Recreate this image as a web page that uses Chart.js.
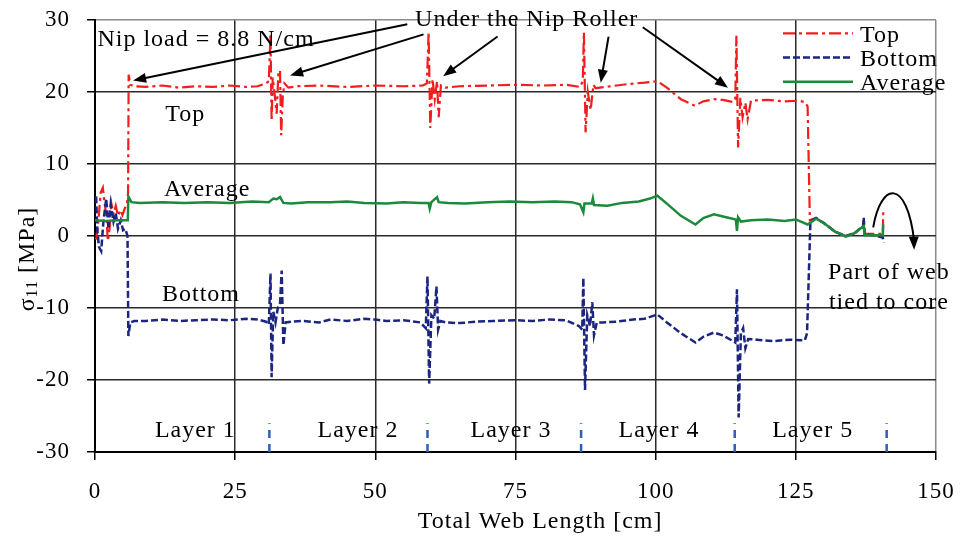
<!DOCTYPE html>
<html>
<head>
<meta charset="utf-8">
<title>σ11 vs total web length</title>
<script src="https://cdn.jsdelivr.net/npm/chart.js@4.4.1/dist/chart.umd.min.js"></script>
<style>
  html, body { margin: 0; padding: 0; background: #fff; }
  #wrap { width: 961px; height: 538px; }
</style>
</head>
<body>
<div id="wrap"><canvas id="stressChart" width="961" height="538"></canvas></div>
<script>
// Tangential stress sigma_11 [MPa] along the wound web, nip load 8.8 N/cm

// Top surface
const topLen = [0.2, 0.6, 1.0, 1.4, 1.7, 2.0, 2.3, 2.6, 2.9, 3.3, 3.7, 4.1, 4.5, 4.9, 5.3, 5.7, 5.9, 6.0, 6.3, 7,
  9, 12, 15, 18, 21, 24, 27, 29, 30.5,
  31.0, 31.3, 31.5, 31.7, 32.0, 32.4, 32.7, 33.0, 33.2, 33.5, 33.8, 34.5,
  36, 40, 45, 50, 55, 58.5,
  59.2, 59.5, 59.8, 60.2, 60.6, 61.0, 61.3, 61.7, 62.5,
  65, 70, 75, 80, 84, 86.5,
  87.0, 87.2, 87.5, 87.9, 88.4, 88.9, 89.3, 90,
  92, 95, 98, 100.3, 102, 104.5, 107, 108.5, 110.4, 112, 113.8,
  114.2, 114.4, 114.7, 115.1, 115.5, 116.0, 116.4, 117,
  120, 123, 125.5, 126.6, 127.1, 127.5, 128.6, 130, 132, 133.9, 135.5, 137.1, 137.3, 139, 140.5, 140.6];
const topStress = [-0.5, 2.0, 6.0, 6.7, 4.6, 3.0, -0.7, 1.0, 4.6, 3.0, 4.2, 2.8, 3.6, 2.9, 3.8, 4.5, 6.0, 22.4, 21.0, 20.8,
  20.7, 20.9, 20.6, 20.8, 20.7, 20.9, 20.7, 20.8, 21.2,
  21.5, 28.0, 16.0, 22.0, 20.0, 17.0, 22.5, 23.0, 14.0, 19.5, 21.2, 20.6,
  20.8, 20.9, 20.7, 20.9, 20.8, 20.9,
  21.2, 28.3, 15.0, 21.8, 19.0, 21.5, 16.5, 20.9, 20.6,
  20.8, 20.9, 21.0, 20.9, 21.0, 20.7,
  21.5, 28.3, 14.4, 20.0, 17.5, 21.0, 20.5, 20.6,
  20.8, 21.1, 21.3, 21.5, 20.6, 19.0, 18.1, 18.7, 19.0, 18.9, 18.6,
  19.0, 27.8, 12.3, 19.2, 16.5, 18.5, 16.2, 18.8,
  18.9, 18.7, 18.8, 18.6, 18.0, 2.2, 2.5, 1.8, 0.6, 0.0, 0.4, 1.4, 0.3, 0.3, 0.3, 3.5];

// Bottom surface
const botLen = [0.2, 0.4, 0.7, 1.1, 1.5, 2.0, 2.4, 2.8, 3.3, 3.7, 4.1, 4.6, 5.0, 5.4, 5.8, 5.95, 6.3, 7,
  9, 12, 15, 18, 21, 24, 27, 29, 30.5,
  31.0, 31.3, 31.5, 31.8, 32.2, 32.6, 33.0, 33.3, 33.6, 34.0, 35,
  37, 40, 42, 45, 48, 50, 52, 55, 58, 59.0,
  59.3, 59.6, 60.0, 60.5, 60.9, 61.2, 61.6, 62.5,
  65, 68, 71, 75, 78, 81, 84, 86.3,
  86.9, 87.1, 87.4, 87.8, 88.3, 88.7, 89.0, 89.5, 90.5,
  93, 96, 98, 100.3, 102, 104.5, 107.1, 108.5, 110.4, 112, 113.8,
  114.2, 114.5, 114.8, 115.2, 115.6, 116.0, 116.5, 118, 121, 124, 126.6, 127.0,
  127.6, 128.6, 130, 132, 133.9, 135.5, 137.0, 137.1, 137.3, 139, 140.5, 140.7];
const botStress = [5.5, 1.0, -1.5, -2.1, 2.0, 5.2, 1.0, 4.4, 2.0, 3.2, 1.0, 2.2, 0.8, 1.0, 0.0, -13.9, -12.0, -11.8,
  -11.8, -11.6, -11.8, -11.7, -11.6, -11.7, -11.5, -11.6, -11.9,
  -12.3, -5.2, -19.6, -10.5, -12.0, -10.0, -9.5, -4.8, -15.2, -12.0, -11.9,
  -11.8, -12.0, -11.6, -11.8, -11.5, -11.6, -11.8, -11.7, -12.0, -12.8,
  -5.6, -20.5, -11.0, -11.5, -7.0, -13.0, -11.8, -12.0,
  -12.1, -11.9, -11.8, -11.7, -11.8, -11.6, -11.7, -12.5,
  -13.0, -5.8, -21.4, -11.0, -12.5, -9.2, -13.8, -12.0, -12.0,
  -11.9, -11.6, -11.5, -10.9, -12.0, -13.5, -14.8, -14.0, -13.4, -13.8, -14.6,
  -14.8, -7.4, -25.2, -13.5, -12.8, -15.6, -14.3, -14.4, -14.6, -14.4, -14.5, -13.5,
  2.0, 2.5, 1.8, 0.6, 0.0, 0.4, 1.4, 2.6, 0.2, 0.1, -0.2, -0.9];

// Average of top and bottom
const avgLen = [0, 2, 4, 5.85, 5.95, 6.5, 8, 12, 16, 20, 24, 28, 31,
  31.8, 32.4, 33.0, 33.6, 35, 38, 42, 45, 48, 52, 55, 58,
  59.5, 59.7, 60.0, 61.0, 61.3, 63, 66, 70, 74, 78, 82, 85,
  86.5, 87.1, 87.3, 88.6, 88.8, 89.0, 91.4, 94, 97, 99, 100.3,
  102, 104.5, 107.1, 108.5, 110.4, 112, 114.3, 114.5, 114.7, 115.2, 117, 120, 123, 125, 127.1,
  128.6, 130, 132, 133.9, 135.5, 137.1, 137.3, 139, 140.5, 140.6];
const avgStress = [2.2, 2.1, 2.2, 2.2, 5.5, 4.7, 4.6, 4.7, 4.6, 4.7, 4.6, 4.8, 4.7,
  5.2, 5.1, 5.4, 4.6, 4.5, 4.7, 4.7, 4.8, 4.6, 4.5, 4.7, 4.6,
  4.6, 3.8, 4.7, 5.4, 4.7, 4.6, 4.5, 4.7, 4.8, 4.7, 4.8, 4.7,
  4.4, 3.3, 4.5, 4.5, 5.2, 4.3, 4.2, 4.6, 4.8, 5.2, 5.6,
  4.5, 2.8, 1.6, 2.5, 3.0, 2.7, 2.3, 0.7, 2.6, 2.0, 2.2, 2.3, 2.1, 2.3, 1.6,
  2.4, 1.8, 0.6, -0.1, 0.4, 1.4, 0.1, 0.1, 0.1, 1.6];

// Layer boundaries on the core and layer names
const layerEdges = [31.1, 59.3, 86.7, 114.1, 141.2];
const layerNames = ['Layer 1', 'Layer 2', 'Layer 3', 'Layer 4', 'Layer 5'];

const xTicks = [0, 25, 50, 75, 100, 125, 150];
const yTicks = [-30, -20, -10, 0, 10, 20, 30];

const FONT = "'Liberation Serif', 'Times New Roman', serif";
const TEXT_SIZE = 24;

function toPoints(xs, ys) {
  return xs.map((x, i) => ({ x: x, y: ys[i] }));
}

// short dashed markers at the bottom of the plot for each layer end
function layerMarks() {
  const pts = [];
  layerEdges.forEach(e => {
    pts.push({ x: e, y: -30 }, { x: e, y: -26 }, { x: e, y: null });
  });
  return pts;
}

const series = [
  { label: 'Top', color: '#f41c1c', dash: [12, 4, 3, 4], width: 2.2 },
  { label: 'Bottom', color: '#1c2580', dash: [7, 3], width: 2.5 },
  { label: 'Average', color: '#1b8a3a', dash: [], width: 2.5 }
];

// text placed in data coordinates
const notes = [
  { text: 'Nip load = 8.8 N/cm', x: 19.8, y: 26.4 },
  { text: 'Under the Nip Roller', x: 77.0, y: 29.2 },
  { text: 'Top', x: 16.1, y: 16.0 },
  { text: 'Average', x: 20.0, y: 5.6 },
  { text: 'Bottom', x: 18.9, y: -9.0 },
  { text: 'Part of web', x: 141.6, y: -6.0 },
  { text: 'tied to core', x: 141.6, y: -10.2 }
];
const layerLabelX = [17.9, 46.9, 74.2, 100.6, 128.0];

// arrows [fromX, fromY, toX, toY]
const arrows = [
  [55.7, 29.4, 6.8, 21.6],
  [58.6, 28.0, 34.8, 22.3],
  [71.8, 27.7, 62.1, 22.2],
  [91.6, 27.7, 90.2, 21.3],
  [97.7, 29.0, 112.9, 20.6]
];

function arrowHead(ctx, x, y, ang) {
  const len = 13, half = 5;
  ctx.beginPath();
  ctx.moveTo(x, y);
  ctx.lineTo(x - Math.cos(ang) * len + Math.sin(ang) * half, y - Math.sin(ang) * len - Math.cos(ang) * half);
  ctx.lineTo(x - Math.cos(ang) * len - Math.sin(ang) * half, y - Math.sin(ang) * len + Math.cos(ang) * half);
  ctx.closePath();
  ctx.fill();
}

// chart area fixed by the axis sizes, no extra room for edge labels
function noEdgePadding(scale) {
  scale.paddingLeft = 0;
  scale.paddingRight = 0;
  scale.paddingTop = 0;
  scale.paddingBottom = 0;
}

const annotate = {
  id: 'annotate',
  beforeDraw(chart) {
    chart.ctx.letterSpacing = '1px';
  },
  afterDraw(chart) {
    const { ctx, chartArea: a, scales } = chart;
    const px = v => scales.x.getPixelForValue(v);
    const py = v => scales.y.getPixelForValue(v);
    ctx.save();
    ctx.fillStyle = '#000';
    ctx.strokeStyle = '#000';
    ctx.letterSpacing = '1px';
    ctx.font = TEXT_SIZE + 'px ' + FONT;
    ctx.textAlign = 'center';
    ctx.textBaseline = 'alphabetic';
    notes.forEach(n => ctx.fillText(n.text, px(n.x), py(n.y)));
    layerNames.forEach((n, i) => ctx.fillText(n, px(layerLabelX[i]), py(-27.9)));

    // x axis title
    ctx.fillText('Total Web Length [cm]', px(79.4), 528);

    // straight arrows
    ctx.lineWidth = 2;
    arrows.forEach(r => {
      const x1 = px(r[0]), y1 = py(r[1]), x2 = px(r[2]), y2 = py(r[3]);
      const ang = Math.atan2(y2 - y1, x2 - x1);
      ctx.beginPath();
      ctx.moveTo(x1, y1);
      ctx.lineTo(x2 - Math.cos(ang) * 10, y2 - Math.sin(ang) * 10);
      ctx.stroke();
      arrowHead(ctx, x2, y2, ang);
    });

    // curved arrow to the part tied to the core
    const sx = px(138.8), sy = py(1.2);
    const c1x = px(140.2), c1y = py(7.6);
    const c2x = px(144.8), c2y = py(8.0);
    const ex = px(146.1), ey = py(-1.9);
    ctx.beginPath();
    ctx.moveTo(sx, sy);
    ctx.bezierCurveTo(c1x, c1y, c2x, c2y, ex, ey - 9);
    ctx.stroke();
    arrowHead(ctx, ex, ey, Math.atan2(ey - c2y, ex - c2x) * 0.3 + Math.PI / 2 * 0.7);

    // legend, top right inside the plot
    ctx.textAlign = 'left';
    series.forEach((s, i) => {
      const ly = a.top + 13.3 + i * 24.2;
      ctx.save();
      ctx.strokeStyle = s.color;
      ctx.lineWidth = s.width;
      ctx.setLineDash(s.dash);
      ctx.beginPath();
      ctx.moveTo(a.right - 153, ly);
      ctx.lineTo(a.right - 83, ly);
      ctx.stroke();
      ctx.restore();
      ctx.fillText(s.label, a.right - 76, ly + 8.4);
    });

    // y axis title with subscript
    ctx.translate(34, 259);
    ctx.rotate(-Math.PI / 2);
    ctx.font = TEXT_SIZE + 'px ' + FONT;
    const wS = ctx.measureText('σ').width;
    const wR = ctx.measureText(' [MPa]').width;
    ctx.font = '16px ' + FONT;
    const wSub = ctx.measureText('11').width;
    let tx = -(wS + wSub + wR) / 2;
    ctx.font = TEXT_SIZE + 'px ' + FONT;
    ctx.fillText('σ', tx, 0);
    tx += wS;
    ctx.font = '16px ' + FONT;
    ctx.fillText('11', tx, 3);
    tx += wSub;
    ctx.font = TEXT_SIZE + 'px ' + FONT;
    ctx.fillText(' [MPa]', tx, 0);
    ctx.restore();
  }
};

const ctx = document.getElementById('stressChart').getContext('2d');
const stressChart = new Chart(ctx, {
  type: 'line',
  data: {
    datasets: [
      {
        label: series[0].label,
        data: toPoints(topLen, topStress),
        borderColor: series[0].color,
        borderWidth: series[0].width,
        borderDash: series[0].dash,
        order: 2
      },
      {
        label: series[1].label,
        data: toPoints(botLen, botStress),
        borderColor: series[1].color,
        borderWidth: series[1].width,
        borderDash: series[1].dash,
        order: 1
      },
      {
        label: series[2].label,
        data: toPoints(avgLen, avgStress),
        borderColor: series[2].color,
        borderWidth: series[2].width,
        order: 0
      },
      {
        label: 'Layer ends',
        data: layerMarks(),
        borderColor: '#2c5fb8',
        borderWidth: 2.5,
        borderDash: [8, 6],
        spanGaps: false,
        order: 3
      }
    ]
  },
  options: {
    responsive: false,
    animation: false,
    devicePixelRatio: 1,
    layout: { padding: { left: 0, right: 25, top: 20, bottom: 0 } },
    elements: {
      point: { radius: 0 },
      line: { tension: 0, fill: false, borderCapStyle: 'butt' }
    },
    plugins: {
      legend: { display: false },
      tooltip: { enabled: false }
    },
    scales: {
      x: {
        type: 'linear',
        min: 0,
        max: 150,
        afterFit(scale) { scale.height = 86; noEdgePadding(scale); },
        afterBuildTicks(scale) { scale.ticks = xTicks.map(v => ({ value: v })); },
        ticks: { color: '#000', padding: 18, font: { family: FONT, size: 23 } },
        grid: {
          color: c => (c.tick && c.tick.value === 150 ? '#8c8c8c' : '#2a2a2a'),
          lineWidth: 1.5,
          tickLength: 8,
          tickColor: '#000'
        },
        border: { color: '#000', width: 2 }
      },
      y: {
        min: -30,
        max: 30,
        afterFit(scale) { scale.width = 95; noEdgePadding(scale); },
        afterBuildTicks(scale) { scale.ticks = yTicks.map(v => ({ value: v })); },
        ticks: { color: '#000', padding: 17, font: { family: FONT, size: 23 } },
        grid: {
          color: c => (c.tick && c.tick.value === 30 ? '#8c8c8c' : '#2a2a2a'),
          lineWidth: 1.5,
          tickLength: 8,
          tickColor: '#000'
        },
        border: { color: '#000', width: 2 }
      }
    }
  },
  plugins: [annotate]
});
</script>
</body>
</html>
